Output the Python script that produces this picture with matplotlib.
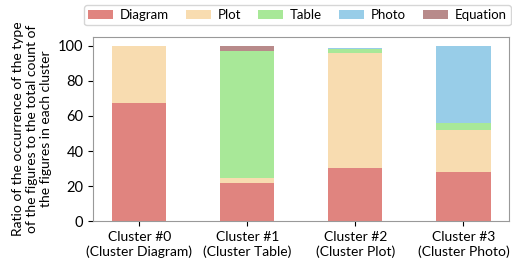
import matplotlib.pyplot as plt
import numpy as np

plt.rcParams['font.family'] = ['Lato', 'DejaVu Sans']

clusters = ['Cluster #0\n(Cluster Diagram)', 'Cluster #1\n(Cluster Table)',
            'Cluster #2\n(Cluster Plot)', 'Cluster #3\n(Cluster Photo)']
types = ['Diagram', 'Plot', 'Table', 'Photo', 'Equation']
diagram = [67.6, 21.6, 30.3, 28.1]
plot = [32.4, 2.8, 65.7, 24.0]
table = [0.0, 72.4, 1.9, 4.0]
photo = [0.0, 0.0, 1.1, 43.9]
equation = [0.0, 3.2, 0.0, 0.0]
colors = ['#e0847f', '#f8dcb0', '#a8e898', '#98cde8', '#b88a8a']

fig, ax = plt.subplots(figsize=(5.12, 2.66), dpi=100)
x = np.arange(len(clusters))
bottom = np.zeros(len(clusters))
for name, vals, c in zip(types, [diagram, plot, table, photo, equation], colors):
    ax.bar(x, vals, 0.5, bottom=bottom, color=c, label=name)
    bottom += np.array(vals)

ax.set_xticks(x)
ax.set_xticklabels(clusters, fontsize=10)
ax.set_ylim(0, 105)
ax.set_yticks([0, 20, 40, 60, 80, 100])
ax.tick_params(axis='y', labelsize=10.5)
ax.set_ylabel('Ratio of the occurrence of the type\nof the figures to the total count of\nthe figures in each cluster', fontsize=10)
for s in ax.spines.values():
    s.set_color('#999999')

fig.legend(loc='upper right', bbox_to_anchor=(1.0, 0.985), ncol=5, fontsize=9.5,
           handlelength=1.9, handletextpad=0.5, columnspacing=1.3,
           borderaxespad=0.1, borderpad=0.3, frameon=True)
fig.subplots_adjust(left=0.182, right=0.995, top=0.861, bottom=0.168)
fig.savefig('out.png')
